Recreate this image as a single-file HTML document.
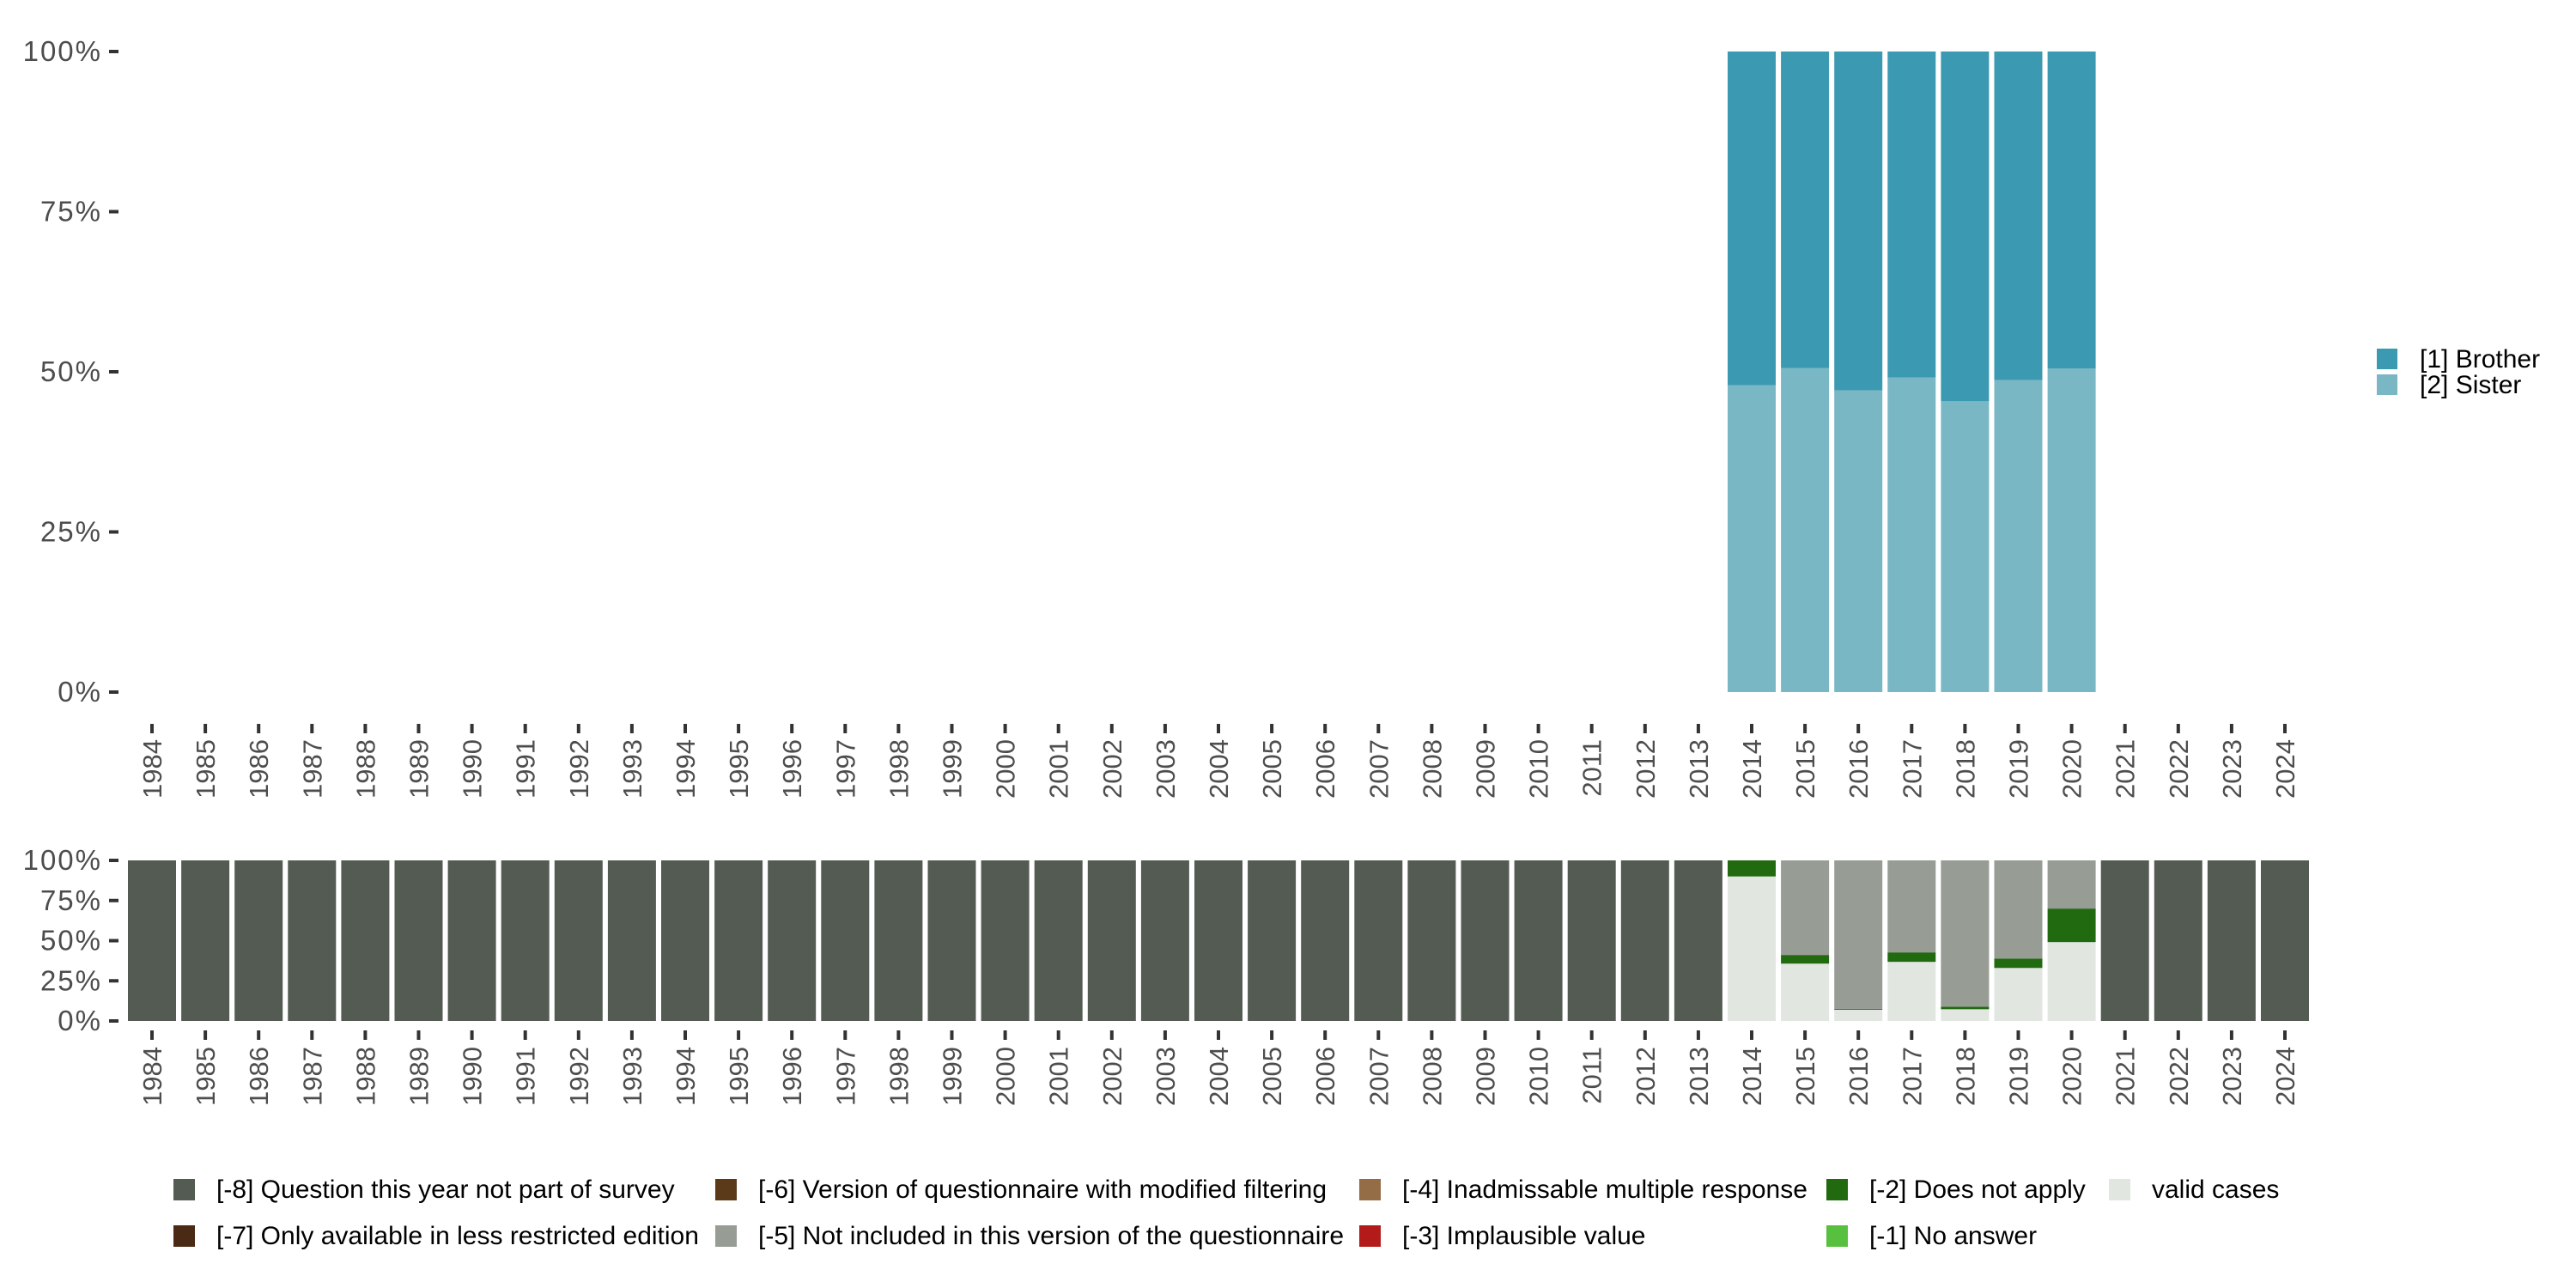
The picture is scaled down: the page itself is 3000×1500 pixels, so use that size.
<!DOCTYPE html>
<html><head><meta charset="utf-8"><style>
body{margin:0;background:#fff}
svg{display:block;font-family:"Liberation Sans",sans-serif}
</style></head><body>
<svg id="c" width="3000" height="1500" viewBox="0 0 3000 1500"></svg>
<script>
const years=[];for(let y=1984;y<=2024;y++)years.push(y);
const validYears=[2014,2015,2016,2017,2018,2019,2020];
const sister=[0.479,0.506,0.471,0.491,0.454,0.487,0.505];
const brother=[0.521,0.494,0.529,0.509,0.546,0.513,0.495];
const validCases=[0.90,0.357,0.07,0.368,0.073,0.33,0.491];
const doesNotApply=[0.10,0.054,0.005,0.059,0.016,0.059,0.209];
const notIncluded=[0,0.589,0.925,0.573,0.911,0.611,0.30];
const yTicks=[0,0.25,0.5,0.75,1];
const yTickLabels=["0%","25%","50%","75%","100%"];
const legendTop=[["[1] Brother","#3b99b1"],["[2] Sister","#7ab7c5"]];
const legendBottom=[
["[-8] Question this year not part of survey","#545b53"],["[-7] Only available in less restricted edition","#4a2a14"],
["[-6] Version of questionnaire with modified filtering","#5b3a1a"],["[-5] Not included in this version of the questionnaire","#979c95"],
["[-4] Inadmissable multiple response","#946c45"],["[-3] Implausible value","#b31b1b"],
["[-2] Does not apply","#216a10"],["[-1] No answer","#58c03f"],
["valid cases","#e1e6e1"]];

const svg=document.getElementById('c');const NS='http://www.w3.org/2000/svg';
function el(t,a,txt){const e=document.createElementNS(NS,t);for(const k in a)e.setAttribute(k,a[k]);if(txt!==undefined)e.textContent=txt;svg.appendChild(e);return e;}
const x0=177,step=62.1,bw=56;
const xs=y=>x0+(y-1984)*step;
const yTop=v=>806-v*746;
const yBot=v=>1189-v*187;

function axes(ys,tickY,labY,pre){
  yTicks.forEach((t,i)=>{
    const yy=ys(t);
    const tk=el('rect',{x:127,y:yy-2,width:11,height:4,fill:'#333'});
    
    const lb=el('text',{x:119,y:yy+11,'text-anchor':'end','font-size':33,'letter-spacing':2,fill:'#4d4d4d'},yTickLabels[i]);
    
  });
  years.forEach(y=>{
    const x=xs(y);
    const tk=el('rect',{x:x-2,y:tickY,width:4,height:11,fill:'#333'});
    
    const lb=el('text',{x:0,y:0,'text-anchor':'end','font-size':31,fill:'#4d4d4d',transform:`translate(${x+11},${labY}) rotate(-90)`},String(y));
    
  });
}
axes(yTop,843,861,'top');
axes(yBot,1200,1219,'bottom');

function bar(x,v0,v1,ys,c,name){
  const r=el('rect',{x:x-bw/2,y:ys(v1),width:bw,height:ys(v0)-ys(v1),fill:c});
  
}
validYears.forEach((y,i)=>{
  bar(xs(y),0,sister[i],yTop,'#7ab7c5','bar-sister-'+y);
  bar(xs(y),sister[i],sister[i]+brother[i],yTop,'#3b99b1','bar-brother-'+y);
});
years.forEach(y=>{
  const i=validYears.indexOf(y);
  if(i<0){bar(xs(y),0,1,yBot,'#545b53','bar-missing-'+y);return;}
  let a=0;
  bar(xs(y),a,a+validCases[i],yBot,'#e1e6e1','bar-valid-'+y);a+=validCases[i];
  bar(xs(y),a,a+doesNotApply[i],yBot,'#216a10','bar-dna-'+y);a+=doesNotApply[i];
  if(notIncluded[i]>0)bar(xs(y),a,Math.min(1,a+notIncluded[i]),yBot,'#979c95','bar-notincl-'+y);
});
legendTop.forEach((l,i)=>{
  const r=el('rect',{x:2768,y:406+i*30,width:24,height:24,fill:l[1]});
  
  const t=el('text',{x:2818,y:428+i*30,'font-size':30,fill:'#000'},l[0]);
  
});
const colX=[202,833,1583,2127,2456];
legendBottom.forEach((l,i)=>{
  const c=Math.floor(i/2),r=i%2;
  const s=el('rect',{x:colX[c],y:1373+r*54,width:25,height:25,fill:l[1]});
  
  const t=el('text',{x:colX[c]+50,y:1395+r*54,'font-size':30,fill:'#000'},l[0]);
  
});
</script>
</body></html>
